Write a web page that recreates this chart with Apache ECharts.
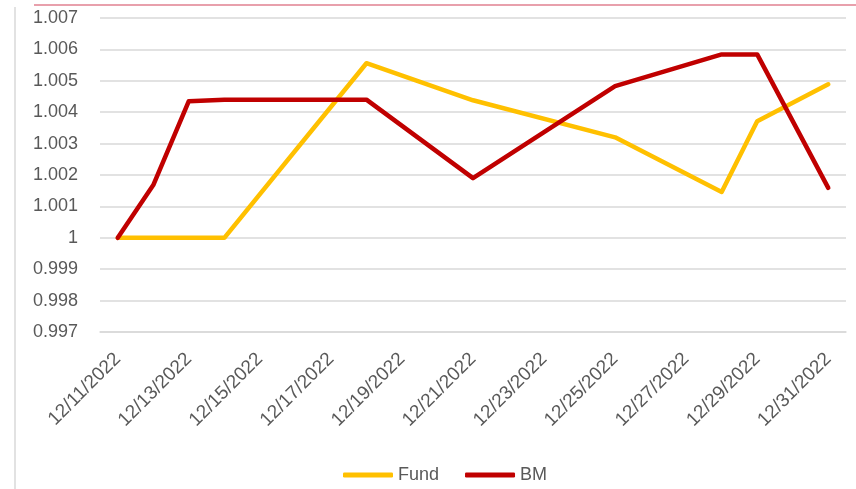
<!DOCTYPE html>
<html>
<head>
    <meta charset="utf-8">
    <title>Fund vs BM</title>
    <script src="https://cdn.jsdelivr.net/npm/echarts@6/dist/echarts.min.js"></script>
</head>
<body style="margin:0">
    <div id="main" style="width: 856px;height:489px;"></div>
    <script type="text/javascript">

// dates on the axis (one per day)
var dates = ['12/11/2022', '12/12/2022', '12/13/2022', '12/14/2022', '12/15/2022', '12/16/2022', '12/17/2022',
    '12/18/2022', '12/19/2022', '12/20/2022', '12/21/2022', '12/22/2022', '12/23/2022', '12/24/2022',
    '12/25/2022', '12/26/2022', '12/27/2022', '12/28/2022', '12/29/2022', '12/30/2022', '12/31/2022'];

// values only on the observed days, gaps are null
var fund = [1.0, null, null, 1.0, null, null, null,
    1.00556, null, null, 1.00438, null, null, null,
    1.0032, null, null, 1.00146, 1.00371, null, 1.00489];

var bm = [1.0, 1.00168, 1.00435, 1.0044, null, null, null,
    1.0044, null, null, 1.0019, null, null, null,
    1.00483, null, null, 1.00584, 1.00584, null, 1.00159];

var yTicks = { min: 0.997, max: 1.007, step: 0.001 };

var myChart = echarts.init(document.getElementById('main'));

var labelFont = 'Liberation Sans';

var option = {
    backgroundColor: '#FFFFFF',
    animation: false,
    grid: { left: 100, right: 10, top: 18, bottom: 157 },
    legend: {
        bottom: 0,
        left: 338,
        itemWidth: 50,
        itemHeight: 5,
        itemGap: 26,
        icon: 'roundRect',
        textStyle: { color: '#595959', fontSize: 18, fontFamily: labelFont },
        data: ['Fund', 'BM']
    },
    xAxis: {
        type: 'category',
        data: dates,
        boundaryGap: true,
        axisLine: { lineStyle: { color: '#D9D9D9', width: 1.5 } },
        axisTick: { show: false },
        axisLabel: {
            interval: 1,
            rotate: 45,
            margin: 24,
            color: '#595959',
            fontSize: 19,
            fontFamily: labelFont
        }
    },
    yAxis: {
        type: 'value',
        min: yTicks.min,
        max: yTicks.max,
        interval: yTicks.step,
        axisLine: { show: false },
        axisTick: { show: false },
        axisLabel: {
            margin: 22,
            color: '#595959',
            fontSize: 18,
            fontFamily: labelFont,
            formatter: function (v) { return +v.toFixed(3) + ''; }
        },
        splitLine: { lineStyle: { color: '#D9D9D9', width: 1.5 } }
    },
    series: [
        {
            name: 'Fund',
            type: 'line',
            data: fund,
            connectNulls: true,
            showSymbol: false,
            color: '#FFC000',
            lineStyle: { width: 4.5, color: '#FFC000', join: 'round', cap: 'round' }
        },
        {
            name: 'BM',
            type: 'line',
            data: bm,
            connectNulls: true,
            showSymbol: false,
            color: '#C00000',
            lineStyle: { width: 4.5, color: '#C00000', join: 'round', cap: 'round' }
        }
    ],
    graphic: [
        { type: 'line', shape: { x1: 34, y1: 5, x2: 856, y2: 5 }, style: { stroke: '#E08090', lineWidth: 1.5 } },
        { type: 'line', shape: { x1: 15, y1: 7, x2: 15, y2: 489 }, style: { stroke: '#D9D9D9', lineWidth: 1.5 } }
    ]
};

myChart.setOption(option);

    </script>
</body>
</html>
